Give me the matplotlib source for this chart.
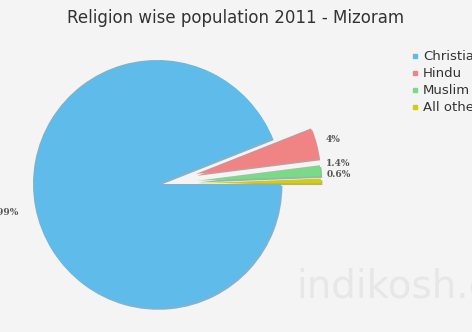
import numpy as np
import matplotlib.pyplot as plt
from matplotlib.lines import Line2D

# data
religions = ['Christian', 'Hindu', 'Muslim', 'All others']
shares = [94.0, 4.0, 1.4, 0.6]
pct_labels = ['93.99%', '4%', '1.4%', '0.6%']
colors = ['#5fbbea', '#f08484', '#7dd98a', '#d4cc10']
explode = [0, 40, 40, 40]
angle_nudge = [0, 0, 2.5, 2.4]   # keeps the small labels apart

W, H = 472, 332
fig = plt.figure(figsize=(W / 100, H / 100), dpi=100, facecolor='#f4f4f4')
ax = fig.add_axes([0, 0, 1, 1])
ax.set_facecolor('#f4f4f4')

R = 124
cx, cy = 157, H - 184
wedges, _ = ax.pie(shares, colors=colors, startangle=0, counterclock=False,
                   radius=R, center=(cx, cy), explode=explode,
                   wedgeprops=dict(linewidth=0),
                   shadow={'ox': 1.0, 'oy': -1.3, 'shade': 0.45})
ax.set_xlim(0, W)
ax.set_ylim(0, H)
ax.set_aspect('equal')
ax.axis('off')

# percentage labels just outside each wedge
for w, lab, nudge in zip(wedges, pct_labels, angle_nudge):
    mid = np.deg2rad((w.theta1 + w.theta2) / 2 + nudge)
    big = w.theta2 - w.theta1 > 180
    k = 1.21 if big else 1.13
    x = w.center[0] + R * k * np.cos(mid)
    y = w.center[1] + R * k * np.sin(mid)
    if big:
        ax.text(x + 9, y, lab, ha='right', va='center', fontsize=6.5,
                fontweight='bold', family='DejaVu Serif', color='#555555')
    else:
        ax.text(x + 2, y, lab, ha='center', va='center', fontsize=6.5,
                fontweight='bold', family='DejaVu Serif', color='#555555')

fig.text(0.5, 1 - 18 / H, 'Religion wise population 2011 - Mizoram',
         ha='center', va='center', fontsize=12, color='#333333')

handles = [Line2D([], [], marker='s', linestyle='', markersize=3.5,
                  markerfacecolor=c, markeredgecolor=c) for c in colors]
fig.legend(handles, religions, loc='upper left',
           bbox_to_anchor=(406 / W, 1 - 45 / H), frameon=False,
           fontsize=9.5, handlelength=0.6, handletextpad=0.3,
           labelspacing=0.3, borderaxespad=0, labelcolor='#333333')

fig.text(296 / W, 1 - 287 / H, 'indikosh.com', ha='left', va='center',
         fontsize=28, color='#e7e7e7')

fig.savefig('out.png', dpi=100, facecolor=fig.get_facecolor())
